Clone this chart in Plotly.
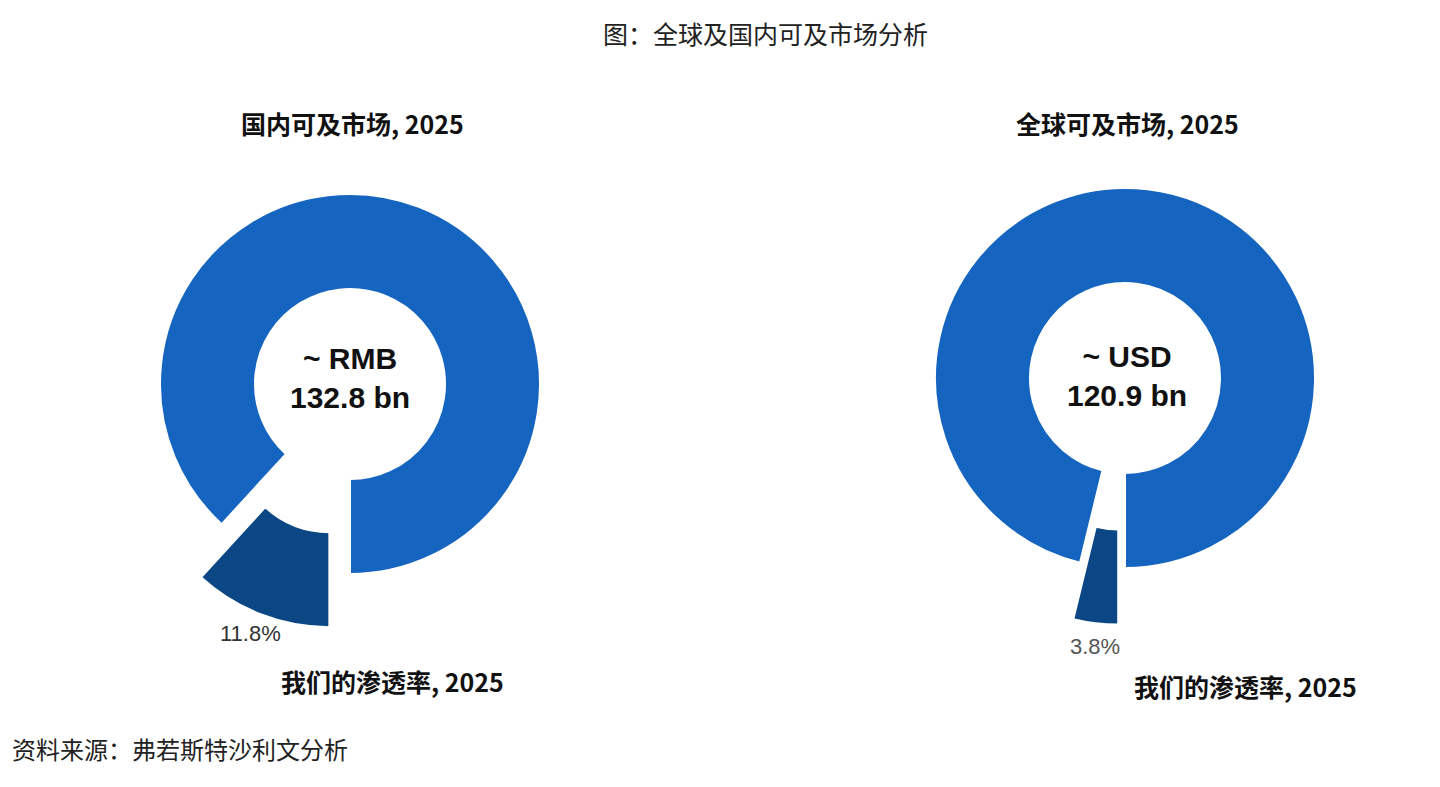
import plotly.graph_objects as go

labels = ["我们的渗透率", "其他"]
domestic_share = [11.8, 88.2]
global_share = [3.8, 96.2]
domestic_center = "~ RMB<br>132.8 bn"
global_center = "~ USD<br>120.9 bn"

W, H = 1440, 787
blue = "#1565c0"
dark = "#0b4785"
OX, OY = 8, 10  # page offset seen in the render

def px(x):
    return (x - OX) / W

def py(y):
    return 1 - (y - OY) / H

fig = go.Figure()
for vals, cx, cy in [(domestic_share, 350, 386), (global_share, 1125, 380)]:
    half = 190 * 1.3
    fig.add_trace(go.Pie(
        labels=labels, values=vals, hole=0.5, sort=False,
        direction="clockwise", rotation=180, pull=[0.3, 0],
        marker=dict(colors=[dark, blue], line=dict(color="white", width=2)),
        textinfo="none", hoverinfo="label+percent", showlegend=False,
        domain=dict(x=[px(cx - half), px(cx + half)], y=[py(cy + half), py(cy - half)]),
    ))

cjk = "Noto Sans CJK SC"
arial = "Liberation Sans"
ann = [
    ("图：全球及国内可及市场分析", 765, 35, 25, "#222", cjk, "center"),
    ("<b>国内可及市场, 2025</b>", 352, 125, 25, "#111", cjk, "center"),
    ("<b>全球可及市场, 2025</b>", 1127, 125, 25, "#111", cjk, "center"),
    ("<b>" + domestic_center + "</b>", 350, 380, 30, "#111", arial, "center"),
    ("<b>" + global_center + "</b>", 1127, 378, 30, "#111", arial, "center"),
    ("11.8%", 250, 635, 22, "#333", arial, "center"),
    ("3.8%", 1095, 648, 22, "#555", arial, "center"),
    ("<b>我们的渗透率, 2025</b>", 392, 683, 25, "#111", cjk, "center"),
    ("<b>我们的渗透率, 2025</b>", 1245, 688, 25, "#111", cjk, "center"),
    ("资料来源：弗若斯特沙利文分析", 10, 750, 24, "#222", cjk, "left"),
]
for text, x, y, size, color, font, anchor in ann:
    fig.add_annotation(text=text, x=px(x), y=py(y), xref="paper", yref="paper",
                       showarrow=False, xanchor=anchor, yanchor="middle",
                       font=dict(size=size, color=color, family=font))

fig.update_layout(width=W, height=H, margin=dict(l=0, r=0, t=0, b=0),
                  paper_bgcolor="white", plot_bgcolor="white")
fig.write_html("out.html")
